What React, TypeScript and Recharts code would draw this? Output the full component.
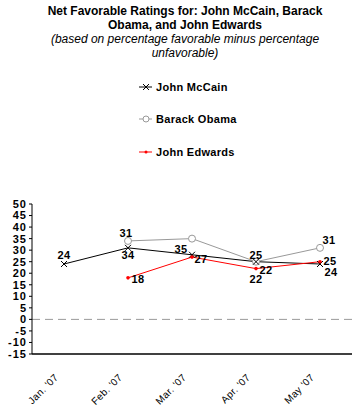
import { LineChart, Line, XAxis, YAxis, ReferenceLine, LabelList } from 'recharts'

const months = ["Jan. '07", "Feb. '07", "Mar. '07", "Apr. '07", "May '07"]
const mccain = [24, 31, 28, 25, 24]
const obama = [null, 34, 35, 25, 31]
const edwards = [null, 18, 27, 22, 25]

// label text as printed on the original chart
const mccainLabels = ['24', '34', '', '22', '24']
const obamaLabels = ['', '31', '35', '25', '31']
const edwardsLabels = ['', '18', '27', '22', '25']

const yTicks = [-15, -10, -5, 0, 5, 10, 15, 20, 25, 30, 35, 40, 45, 50]

const FONT = '"Liberation Sans", Arial, sans-serif'

const data = months.map((m, i) => ({
  month: m,
  mccain: mccain[i],
  obama: obama[i],
  edwards: edwards[i],
}))

// offsets of each label from its point
const labelOffsets: Record<string, [number, number][]> = {
  mccain: [[0, -5], [0, 11], [0, 0], [10, 12], [11, 12]],
  obama: [[0, 0], [-2, -4], [-11, 14], [0, -3], [9, -4]],
  edwards: [[0, 0], [10, 5], [9, 6], [0, 14], [10, 3]],
}

function makeLabel(key: string, texts: string[]) {
  return (props: any) => {
    const { x, y, index } = props
    const t = texts[index]
    if (!t || x == null || y == null) return null
    const [dx, dy] = labelOffsets[key][index]
    return (
      <text x={x + dx} y={y + dy} textAnchor="middle" fontSize={11} fontWeight="bold" letterSpacing={0.5} fill="#000" fontFamily={FONT}>
        {t}
      </text>
    )
  }
}

function CrossDot(props: any) {
  const { cx, cy } = props
  if (cx == null || cy == null) return null
  return (
    <path d={`M${cx - 3},${cy - 3}L${cx + 3},${cy + 3}M${cx - 3},${cy + 3}L${cx + 3},${cy - 3}`} stroke="#000" strokeWidth={1} />
  )
}

function CircleDot(props: any) {
  const { cx, cy, value } = props
  if (cx == null || cy == null || value == null) return null
  return <circle cx={cx} cy={cy} r={3.5} fill="#fff" stroke="#999" strokeWidth={1} />
}

function RedDot(props: any) {
  const { cx, cy, value } = props
  if (cx == null || cy == null || value == null) return null
  return <circle cx={cx} cy={cy} r={1.8} fill="#ff0000" />
}

function MonthTick(props: any) {
  const { x, y, payload } = props
  const px = x - 5
  const py = y + 16
  return (
    <text x={px} y={py} transform={`rotate(-45, ${px}, ${py})`} textAnchor="end" fontSize={10} letterSpacing={0.4} fill="#000" fontFamily={FONT}>
      {payload.value}
    </text>
  )
}

function LegendItem({ top, color, marker, label }: { top: number; color: string; marker: string; label: string }) {
  return (
    <div style={{ position: 'absolute', left: 139, top, display: 'flex', alignItems: 'center', height: 14 }}>
      <svg width={14} height={10} style={{ marginRight: 3 }}>
        <line x1={0} y1={5} x2={13} y2={5} stroke={color} strokeWidth={1} />
        {marker === 'x' && <path d="M4,2L10,8M4,8L10,2" stroke={color} strokeWidth={1} />}
        {marker === 'o' && <circle cx={7} cy={5} r={3} fill="#fff" stroke={color} />}
        {marker === 'dot' && <circle cx={7} cy={5} r={1.5} fill={color} />}
      </svg>
      <span style={{ fontFamily: FONT, fontSize: 11, fontWeight: 'bold', color: '#000', letterSpacing: 0.3 }}>{label}</span>
    </div>
  )
}

export default function App() {
  return (
    <div style={{ position: 'absolute', left: 0, top: 0, width: 358, height: 408, background: '#fff' }}>
      <div style={{ position: 'absolute', left: 10, top: 4, width: 350, textAlign: 'center', fontFamily: FONT, fontSize: 12, lineHeight: '14px' }}>
        <div style={{ fontWeight: 'bold' }}>
          Net Favorable Ratings for: John McCain, Barack
          <br />
          Obama, and John Edwards
        </div>
        <div style={{ fontStyle: 'italic' }}>
          (based on percentage favorable minus percentage
          <br />
          unfavorable)
        </div>
      </div>
      <LegendItem top={80} color="#000" marker="x" label="John McCain" />
      <LegendItem top={112} color="#999" marker="o" label="Barack Obama" />
      <LegendItem top={145} color="#ff0000" marker="dot" label="John Edwards" />
      <div style={{ position: 'absolute', left: 0, top: 0 }}>
        <LineChart width={358} height={408} data={data} margin={{ top: 204, right: 6, bottom: 0, left: 0 }}>
          <XAxis
            dataKey="month"
            height={54}
            padding={{ left: 32, right: 32 }}
            tickLine={false}
            axisLine={{ stroke: '#000', strokeWidth: 1.5 }}
            tick={<MonthTick />}
            interval={0}
          />
          <YAxis
            width={32}
            domain={[-15, 50]}
            ticks={yTicks}
            interval={0}
            axisLine={{ stroke: '#000', strokeWidth: 1 }}
            tickLine={{ stroke: '#000' }}
            tickSize={3}
            tickMargin={2}
            tick={{ fill: '#000', fontSize: 11, fontWeight: 'bold', fontFamily: FONT, letterSpacing: 1 }}
          />
          <ReferenceLine y={0} stroke="#999" strokeDasharray="8 5" />
          <Line dataKey="obama" stroke="#999" strokeWidth={1} dot={<CircleDot />} isAnimationActive={false}>
            <LabelList dataKey="obama" content={makeLabel('obama', obamaLabels)} />
          </Line>
          <Line dataKey="mccain" stroke="#000" strokeWidth={1} dot={<CrossDot />} isAnimationActive={false}>
            <LabelList dataKey="mccain" content={makeLabel('mccain', mccainLabels)} />
          </Line>
          <Line dataKey="edwards" stroke="#ff0000" strokeWidth={1} dot={<RedDot />} isAnimationActive={false}>
            <LabelList dataKey="edwards" content={makeLabel('edwards', edwardsLabels)} />
          </Line>
        </LineChart>
      </div>
    </div>
  )
}
